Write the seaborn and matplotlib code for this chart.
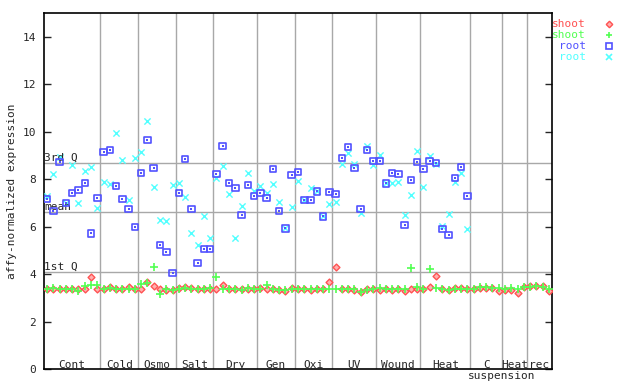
import numpy as np
import pandas as pd
import matplotlib
matplotlib.use('Agg')
import matplotlib.pyplot as plt
import seaborn as sns

sns.set_style('white')
plt.rcParams['font.family'] = ['DejaVu Sans Mono']

# groups along the x axis and how many samples each holds
groups = ['Cont', 'Cold', 'Osmo', 'Salt', 'Dry', 'Gen', 'Oxi', 'UV', 'Wound',
          'Heat', 'C', 'Heat', 'rec']
group_sizes = [9, 6, 6, 6, 7, 6, 6, 7, 7, 8, 5, 4, 4]

shoot_red = [3.39, 3.36, 3.39, 3.39, 3.39, 3.39, 3.36, 3.88, 3.36,
             3.39, 3.45, 3.39, 3.39, 3.46, 3.39,
             3.36, 3.66, 3.49, 3.36, 3.32, 3.32,
             3.42, 3.45, 3.42, 3.39, 3.35, 3.39,
             3.36, 3.54, 3.36, 3.36, 3.36, 3.39, 3.39,
             3.43, 3.36, 3.35, 3.32, 3.28, 3.43,
             3.36, 3.36, 3.32, 3.36, 3.35, 3.66,
             4.29, 3.39, 3.39, 3.32, 3.25, 3.36, 3.36,
             3.32, 3.36, 3.32, 3.39, 3.28, 3.39, 3.39,
             3.39, 3.45, 3.91, 3.36, 3.32, 3.42, 3.42, 3.36,
             3.36, 3.42, 3.42, 3.42, 3.28,
             3.32, 3.32, 3.19, 3.44,
             3.49, 3.49, 3.49, 3.28]
shoot_green = [3.39, 3.42, 3.39, 3.39, 3.39, 3.30, 3.50, 3.53, 3.53,
               3.39, 3.42, 3.39, 3.39, 3.39, 3.36,
               3.57, 3.64, 4.29, 3.15, 3.36, 3.32,
               3.39, 3.42, 3.39, 3.35, 3.35, 3.42,
               3.87, 3.36, 3.39, 3.39, 3.32, 3.42, 3.39,
               3.36, 3.53, 3.35, 3.32, 3.32, 3.39,
               3.39, 3.36, 3.36, 3.36, 3.36, 3.36,
               3.36, 3.39, 3.36, 3.35, 3.25, 3.32, 3.35,
               3.42, 3.39, 3.39, 3.39, 3.36, 4.26, 3.46,
               3.39, 4.22, 3.42, 3.36, 3.32, 3.36, 3.39, 3.35,
               3.36, 3.45, 3.45, 3.42, 3.42,
               3.36, 3.42, 3.36, 3.44,
               3.44, 3.49, 3.44, 3.39]
root_blue = [7.16, 6.65, 8.72, 6.99, 7.41, 7.54, 7.83, 5.72, 7.20,
             9.14, 9.22, 7.71, 7.16, 6.74, 5.98,
             8.25, 9.65, 8.47, 5.22, 4.92, 4.05,
             7.41, 8.84, 6.74, 4.46, 5.05, 5.05,
             8.22, 9.39, 7.83, 7.62, 6.48, 7.75, 7.28,
             7.41, 7.20, 8.42, 6.65, 5.93, 8.17,
             8.30, 7.12, 7.12, 7.48, 6.43, 7.45,
             7.37, 8.89, 9.35, 8.47, 6.74, 9.22, 8.76,
             8.76, 7.82, 8.25, 8.21, 6.06, 7.96, 8.72,
             8.42, 8.76, 8.68, 5.89, 5.64, 8.04, 8.51, 7.28]
root_cyan = [7.30, 8.21, 8.93, 6.99, 8.59, 6.99, 8.34, 8.51, 6.78,
             7.87, 7.79, 9.94, 8.80, 7.12, 8.89,
             9.14, 10.45, 7.66, 6.27, 6.24, 7.75,
             7.83, 7.24, 5.72, 5.22, 6.43, 5.51,
             8.04, 8.55, 7.37, 5.51, 6.86, 8.25, 7.49,
             7.71, 7.41, 7.79, 7.03, 5.93, 6.82,
             7.92, 7.12, 7.62, 7.48, 6.43, 6.95,
             7.03, 8.63, 9.10, 8.63, 6.57, 9.40, 8.59,
             9.01, 7.82, 7.84, 7.86, 6.48, 7.33, 9.18,
             7.66, 8.97, 8.63, 6.02, 6.52, 7.87, 8.25, 5.89]

third_q = 8.69
mean_val = 6.62
first_q = 4.09

RED, GREEN, BLUE, CYAN = '#ff5252', '#52ff52', '#5252ff', '#52ffff'
GREY = '#a8a8a8'

n = len(shoot_red)
shoot = pd.DataFrame({'x': np.arange(n), 'red': shoot_red, 'green': shoot_green})
root = pd.DataFrame({'x': np.arange(len(root_blue)), 'blue': root_blue,
                     'cyan': root_cyan})

fig = plt.figure(figsize=(6.4, 3.84), dpi=100)
ax = fig.add_axes([44 / 640, 15 / 384, 508 / 640, 356 / 384])

# grey reference lines and group separators
for v in (third_q, mean_val, first_q):
    ax.axhline(v, color=GREY, lw=1, zorder=0)
edges = np.cumsum(group_sizes)
for e in edges[:-1]:
    ax.axvline(e - 0.5, color=GREY, lw=1, zorder=0)

# points
sns.scatterplot(data=root, x='x', y='cyan', marker='x', color=CYAN, s=20,
                linewidth=1, ax=ax, zorder=3)
sns.scatterplot(data=root, x='x', y='blue', marker='s', s=22, facecolor='none',
                edgecolor=BLUE, linewidth=1.2, ax=ax, zorder=4)
sns.scatterplot(data=root, x='x', y='blue', marker='s', s=1.2, color=BLUE,
                linewidth=0, ax=ax, zorder=4)
sns.scatterplot(data=shoot, x='x', y='red', marker='D', s=12, facecolor='#ffb0b0',
                edgecolor=RED, linewidth=1, ax=ax, zorder=3)
sns.scatterplot(data=shoot, x='x', y='green', marker='+', s=32, color=GREEN,
                linewidth=1.2, ax=ax, zorder=4)

ax.set_xlim(-0.5, n - 0.5)
ax.set_ylim(0, 15)
ax.set_xticks([])
ax.set_yticks(range(0, 15, 2))
ax.tick_params(axis='y', direction='in', length=5, width=1, pad=5.5,
               labelsize=8, right=True, left=True)
for sp in ax.spines.values():
    sp.set_visible(True)
    sp.set_color('black')
    sp.set_linewidth(1.2)
ax.set_xlabel('')
ax.set_ylabel('affy-normalized expression', fontsize=8, labelpad=4)

# quantile labels
ax.text(-0.5, third_q + 0.08, '3rd Q', fontsize=8, ha='left', va='baseline')
ax.text(-0.5, mean_val + 0.08, 'mean', fontsize=8, ha='left', va='baseline')
ax.text(-0.5, first_q + 0.08, '1st Q', fontsize=8, ha='left', va='baseline')

# group labels
starts = edges - np.array(group_sizes)
for name, s0, e in zip(groups, starts, edges):
    ax.text((s0 + e - 1) / 2, 0.06, name, fontsize=8, ha='center', va='baseline')
ax.text(edges[10] - 0.5, -0.42, 'suspension', fontsize=8, ha='center',
        va='baseline', clip_on=False)

# legend at the right
leg = [('shoot', RED, 'D'), ('shoot', GREEN, '+'),
       ('root', BLUE, 's'), ('root', CYAN, 'x')]
for k, (lab, col, mk) in enumerate(leg):
    yy = 1 - (24 + 11 * k) / 384
    fig.text(586 / 640, yy, lab, color=col, fontsize=8, ha='right', va='center')
    if mk == 'D':
        fig.lines.append(plt.Line2D([609 / 640], [yy], marker='D', ms=3.3,
                                    mfc='#ffb0b0', mec=col, mew=1,
                                    transform=fig.transFigure))
    elif mk == 's':
        fig.lines.append(plt.Line2D([609 / 640], [yy], marker='s', ms=4.2,
                                    mfc='none', mec=col, mew=1.2,
                                    transform=fig.transFigure))
    else:
        fig.lines.append(plt.Line2D([609 / 640], [yy], marker=mk, ms=5,
                                    color=col, mew=1.2,
                                    transform=fig.transFigure))

fig.savefig('out.png', dpi=100)
